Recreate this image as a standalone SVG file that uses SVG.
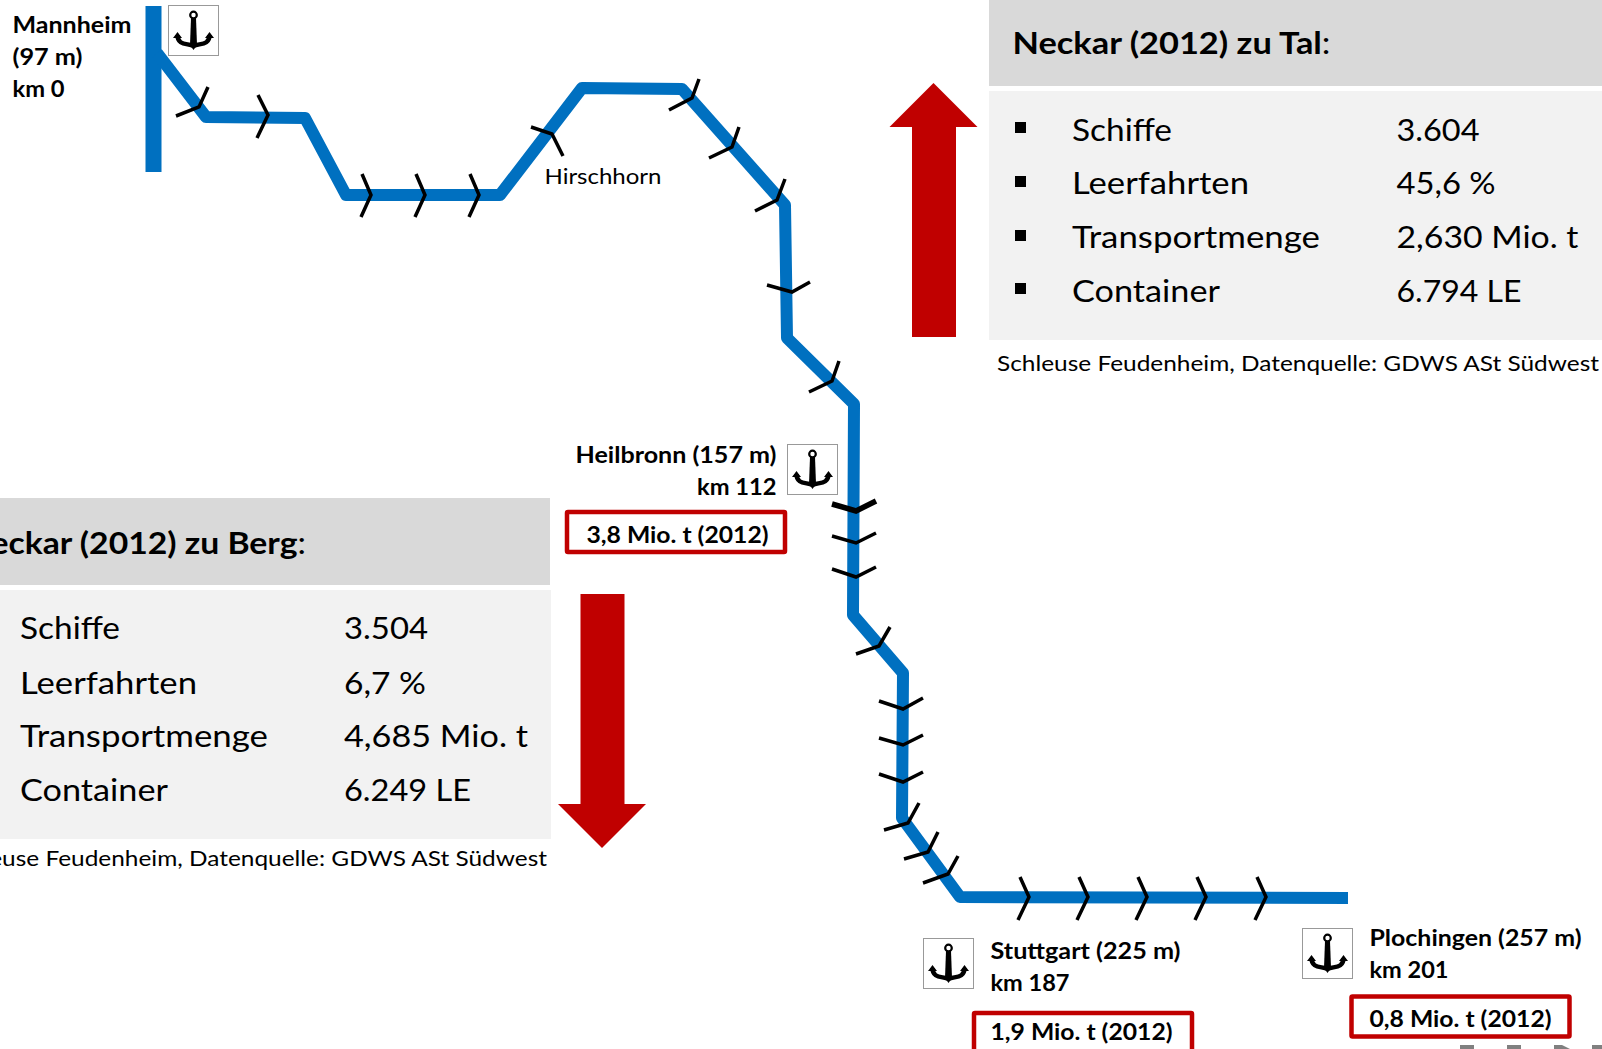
<svg xmlns="http://www.w3.org/2000/svg" width="1602" height="1049" viewBox="0 0 1602 1049">
<style>
text{font-family:Lato,"Open Sans","Liberation Sans",sans-serif;fill:#000}
.b{font-weight:700;font-size:22px}
.t{font-size:31.500px}
.s{font-size:22px}
.h{font-weight:700;font-size:31px}
.river{fill:none;stroke:#0070c0;stroke-width:12;stroke-linejoin:round}
.tick{fill:none;stroke:#000;stroke-width:3.5}
.box{fill:#fff;stroke:#c00000;stroke-width:4.5;rx:1px}
.iconbox{fill:#fff;stroke:#999;stroke-width:1}
.mark{fill:#808080}
</style>
<defs>
<g id="anchor">
<rect class="iconbox" x="0.500" y="0.500" width="50" height="50"/>
<circle cx="25.500" cy="10" r="3.300" fill="none" stroke="#000" stroke-width="2.200"/>
<path d="M23 13H28L29 40L25.500 45L22 40Z" fill="#000"/>
<path d="M9.500 30C9.500 41 20 38 25.500 41C31 38 41.500 41 41.500 30" fill="none" stroke="#000" stroke-width="4.500"/>
<path d="M5 33L9.500 27L14 33ZM37 33L41.500 27L46 33Z" fill="#000"/>
</g>
</defs>

<g id="panel-tal">
<rect x="989" y="0" width="613" height="86" fill="#d9d9d9"/>
<rect x="989" y="91" width="613" height="249" fill="#f2f2f2"/>
<text class="h" x="1012.500" y="54" textLength="318" lengthAdjust="spacingAndGlyphs">Neckar (2012) zu Tal<tspan font-weight="400">:</tspan></text>
<g class="t">
<rect x="1015" y="122" width="11" height="11"/><text x="1072" y="140.500" textLength="100" lengthAdjust="spacingAndGlyphs">Schiffe</text><text x="1396.500" y="140.500" textLength="83" lengthAdjust="spacingAndGlyphs">3.604</text>
<rect x="1015" y="176" width="11" height="11"/><text x="1072" y="194" textLength="177" lengthAdjust="spacingAndGlyphs">Leerfahrten</text><text x="1396.500" y="194" textLength="99" lengthAdjust="spacingAndGlyphs">45,6 %</text>
<rect x="1015" y="230" width="11" height="11"/><text x="1072" y="248" textLength="248" lengthAdjust="spacingAndGlyphs">Transportmenge</text><text x="1396.500" y="248" textLength="182" lengthAdjust="spacingAndGlyphs">2,630 Mio. t</text>
<rect x="1015" y="283" width="11" height="11"/><text x="1072" y="301.500" textLength="148" lengthAdjust="spacingAndGlyphs">Container</text><text x="1396.500" y="301.500" textLength="125" lengthAdjust="spacingAndGlyphs">6.794 LE</text>
</g>
<text class="s" x="997" y="371" textLength="602" lengthAdjust="spacingAndGlyphs">Schleuse Feudenheim, Datenquelle: GDWS ASt Südwest</text>
<polygon id="arrow-up" points="933.500,83 977.500,127 956,127 956,337 912,337 912,127 889.500,127" fill="#c00000"/>
</g>

<g id="panel-berg">
<rect x="0" y="498" width="550" height="87" fill="#d9d9d9"/>
<rect x="0" y="590" width="551" height="249" fill="#f2f2f2"/>
<text class="h" x="-35" y="554" textLength="341" lengthAdjust="spacingAndGlyphs">Neckar (2012) zu Berg<tspan font-weight="400">:</tspan></text>
<g class="t">
<text x="20" y="639" textLength="100" lengthAdjust="spacingAndGlyphs">Schiffe</text><text x="344" y="639" textLength="84" lengthAdjust="spacingAndGlyphs">3.504</text>
<text x="20" y="693.500" textLength="177" lengthAdjust="spacingAndGlyphs">Leerfahrten</text><text x="344" y="693.500" textLength="82" lengthAdjust="spacingAndGlyphs">6,7 %</text>
<text x="20" y="747" textLength="248" lengthAdjust="spacingAndGlyphs">Transportmenge</text><text x="344" y="747" textLength="184" lengthAdjust="spacingAndGlyphs">4,685 Mio. t</text>
<text x="20" y="800.500" textLength="148" lengthAdjust="spacingAndGlyphs">Container</text><text x="344" y="800.500" textLength="127" lengthAdjust="spacingAndGlyphs">6.249 LE</text>
</g>
<text class="s" x="-55" y="866" textLength="602" lengthAdjust="spacingAndGlyphs">Schleuse Feudenheim, Datenquelle: GDWS ASt Südwest</text>
<polygon id="arrow-down" points="580.500,594 624.500,594 624.500,804 646,804 602,848 558,804 580.500,804" fill="#c00000"/>
</g>

<g id="connectors">
<path class="river" style="stroke-width:16" d="M153.500 6V172"/>
<path class="river" d="M157 53L206 117L305 118L346 195H500L582 88L682 89L785 205L787 338L854 404L853 615L903 673L902 818L960 897L1348 898"/>
<path class="tick" d="M176 116L199 107L208 87"/>
<path class="tick" d="M258 95L268 115L257 138"/>
<path class="tick" d="M362 174L371 195L361 217"/>
<path class="tick" d="M416 174L425 195L415 217"/>
<path class="tick" d="M470 174L479 195L469 217"/>
<path class="tick" d="M531 127L552 134L563 156"/>
<path class="tick" d="M669 110L692 98L699 79"/>
<path class="tick" d="M709 158L732 147L739 127"/>
<path class="tick" d="M755 211L777 200L785 179"/>
<path class="tick" d="M767 285L792 292L810 282"/>
<path class="tick" d="M809 392L832 381L839 361"/>
<path class="tick" style="stroke-width:5.500" d="M832 504L856 511L876 501"/>
<path class="tick" d="M832 536L856 543L876 533"/>
<path class="tick" d="M832 569L856 577L876 567"/>
<path class="tick" d="M856 654L879 646L890 627"/>
<path class="tick" d="M879 701L903 709L923 698"/>
<path class="tick" d="M879 738L903 745L923 735"/>
<path class="tick" d="M879 774L903 782L923 772"/>
<path class="tick" d="M884 830L908 823L919 803"/>
<path class="tick" d="M904 859L928 852L938 832"/>
<path class="tick" d="M923 883L948 874L958 856"/>
<path class="tick" d="M1020 877L1029 897L1018 920"/>
<path class="tick" d="M1079 877L1088 897L1077 920"/>
<path class="tick" d="M1138 877L1147 897L1136 920"/>
<path class="tick" d="M1197 877L1206 897L1195 920"/>
<path class="tick" d="M1257 877L1266 897L1255 920"/>
</g>

<g id="mannheim">
<use href="#anchor" x="168" y="5"/>
<text class="b" x="12.500" y="33" textLength="119" lengthAdjust="spacingAndGlyphs">Mannheim</text>
<text class="b" x="12.500" y="65" textLength="70" lengthAdjust="spacingAndGlyphs">(97 m)</text>
<text class="b" x="12.500" y="97" textLength="52" lengthAdjust="spacingAndGlyphs">km 0</text>
</g>
<g id="hirschhorn"><text class="s" x="544.500" y="184" textLength="117" lengthAdjust="spacingAndGlyphs">Hirschhorn</text></g>
<g id="heilbronn">
<use href="#anchor" x="787" y="444"/>
<text class="b" x="575.500" y="462.500" textLength="201" lengthAdjust="spacingAndGlyphs">Heilbronn (157 m)</text>
<text class="b" x="697" y="494.500" textLength="79.500" lengthAdjust="spacingAndGlyphs">km 112</text>
<rect class="box" x="567" y="512" width="218" height="40"/>
<text class="b" x="586.500" y="543" textLength="182" lengthAdjust="spacingAndGlyphs">3,8 Mio. t (2012)</text>
</g>
<g id="stuttgart">
<use href="#anchor" x="923" y="938"/>
<text class="b" x="990.500" y="959" textLength="190" lengthAdjust="spacingAndGlyphs">Stuttgart (225 m)</text>
<text class="b" x="990.500" y="991" textLength="79" lengthAdjust="spacingAndGlyphs">km 187</text>
<rect class="box" x="974" y="1013" width="218" height="42"/>
<text class="b" x="990.500" y="1040" textLength="182" lengthAdjust="spacingAndGlyphs">1,9 Mio. t (2012)</text>
</g>
<g id="plochingen">
<use href="#anchor" x="1302" y="928"/>
<text class="b" x="1369.500" y="946" textLength="212" lengthAdjust="spacingAndGlyphs">Plochingen (257 m)</text>
<text class="b" x="1369.500" y="978" textLength="79" lengthAdjust="spacingAndGlyphs">km 201</text>
<rect class="box" x="1351.500" y="996.500" width="218" height="40"/>
<text class="b" x="1369.500" y="1027" textLength="182" lengthAdjust="spacingAndGlyphs">0,8 Mio. t (2012)</text>
</g>
<g id="footer-marks">
<rect class="mark" x="1460" y="1045" width="14" height="4"/>
<rect class="mark" x="1507" y="1045" width="14" height="4"/>
<path class="mark" d="M1554 1045H1562L1570 1049H1554Z"/>
<rect class="mark" x="1592" y="1045" width="10" height="4"/>
</g>
</svg>
